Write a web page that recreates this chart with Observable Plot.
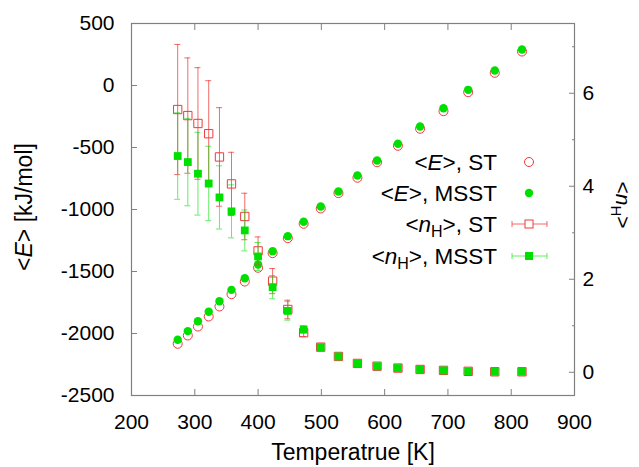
<!DOCTYPE html>
<html><head><meta charset="utf-8">
<script src="https://cdn.jsdelivr.net/npm/d3@7"></script>
<script src="https://cdn.jsdelivr.net/npm/@observablehq/plot@0.6"></script>
<style>
body{margin:0;background:#fff;}
#chart{width:639px;height:467px;}
</style></head><body><div id="chart"></div>
<script>
// ---- data ----
const temperature = [273, 289, 305, 322, 339, 358, 379, 400, 423, 447, 472, 499, 527, 557, 588, 621, 656, 693, 732, 774, 817];
const energyST   = [-2083, -2016, -1944, -1863, -1782, -1683, -1581, -1470, -1352, -1231, -1115, -992, -868, -744, -619, -486, -349, -207, -54, 102, 274];
const energyMSST = [-2051, -1981, -1901, -1825, -1740, -1648, -1554, -1444, -1336, -1215, -1099, -976, -855, -726, -605, -470, -331, -183, -35, 121, 290];
const nHST       = [5.65, 5.52, 5.35, 5.13, 4.63, 4.05, 3.35, 2.61, 1.96, 1.35, 0.85, 0.54, 0.34, 0.19, 0.13, 0.09, 0.06, 0.04, 0.02, 0.01, 0.01];
const nHSTerr    = [1.40, 1.24, 1.20, 1.14, 1.06, 0.68, 0.50, 0.30, 0.27, 0.20, 0.08, 0.04, 0.03, 0.02, 0.01, 0.01, 0.01, 0.01, 0.00, 0.00, 0.00];
const nHMSST     = [4.65, 4.52, 4.27, 4.06, 3.76, 3.46, 3.05, 2.49, 1.83, 1.32, 0.92, 0.54, 0.34, 0.19, 0.13, 0.09, 0.06, 0.04, 0.02, 0.01, 0.01];
const nHMSSTerr  = [0.93, 0.94, 0.89, 0.80, 0.68, 0.57, 0.44, 0.30, 0.25, 0.20, 0.08, 0.04, 0.03, 0.02, 0.01, 0.01, 0.01, 0.01, 0.00, 0.00, 0.00];

const xTicks = [200, 300, 400, 500, 600, 700, 800, 900];
const yTicks = [-2500, -2000, -1500, -1000, -500, 0, 500];
const y2Major = [0, 2, 4, 6];
const y2Minor = [1, 3, 5, 7];

// right axis (<n_H>, -0.5..7.5) mapped onto the left axis range (-2500..500)
const toY2 = n => -2500 + (n + 0.5) * 375;
const fromY2 = y => (y + 2500) / 375 - 0.5;

const data = temperature.map((T, i) => ({
  T,
  eST: energyST[i],
  eMSST: energyMSST[i],
  nST: toY2(nHST[i]), nSTlo: toY2(nHST[i] - nHSTerr[i]), nSThi: toY2(nHST[i] + nHSTerr[i]),
  nMS: toY2(nHMSST[i]), nMSlo: toY2(nHMSST[i] - nHMSSTerr[i]), nMShi: toY2(nHMSST[i] + nHMSSTerr[i])
}));

const FONT = "'Liberation Sans', Arial, Helvetica, sans-serif";
const red = "#ee3a3a", green = "#00e000", gray = "#808080";
const empty = () => "";
const plain = d => String(d);

const chart = Plot.plot({
  width: 639, height: 467,
  marginLeft: 131, marginRight: 65, marginTop: 23, marginBottom: 72,
  style: {fontFamily: FONT, background: "white", color: "black"},
  x: {domain: [200, 900], label: null},
  y: {domain: [-2500, 500], label: null},
  marks: [
    // inward ticks
    Plot.axisX({anchor: "bottom", ticks: xTicks, tickSize: -6, tickFormat: empty, stroke: gray, label: null}),
    Plot.axisX({anchor: "top", ticks: xTicks, tickSize: -6, tickFormat: empty, stroke: gray, label: null}),
    Plot.axisY({anchor: "left", ticks: yTicks, tickSize: -6, tickFormat: empty, stroke: gray, label: null}),
    Plot.axisY({anchor: "right", ticks: y2Major.map(toY2), tickSize: -6, tickFormat: empty, stroke: gray, label: null}),
    Plot.axisY({anchor: "right", ticks: y2Minor.map(toY2), tickSize: -3, tickFormat: empty, stroke: gray, label: null}),
    // tick labels
    Plot.axisX({anchor: "bottom", ticks: xTicks, tickSize: 0, tickPadding: 19, fontSize: 21, fill: "black", tickFormat: plain, label: null}),
    Plot.axisY({anchor: "left", ticks: yTicks, tickSize: 0, tickPadding: 17, fontSize: 21, fill: "black", tickFormat: plain, label: null}),
    Plot.axisY({anchor: "right", ticks: y2Major.map(toY2), tickSize: 0, tickPadding: 8, fontSize: 21, fill: "black",
      tickFormat: d => String(Math.round(fromY2(d))), label: null}),
    Plot.frame({stroke: gray, strokeWidth: 1.2}),
    // <E>
    Plot.dot(data, {x: "T", y: "eST", r: 4.5, stroke: red, strokeWidth: 1, fill: "none"}),
    Plot.dot(data, {x: "T", y: "eMSST", r: 4.2, fill: green, stroke: "none"}),
    // <n_H>, ST
    Plot.ruleX(data, {x: "T", y1: "nSTlo", y2: "nSThi", stroke: red, strokeWidth: 1, strokeOpacity: 0.75}),
    Plot.ruleY(data, {x1: "T", x2: "T", y: "nSTlo", insetLeft: -3, insetRight: -3, stroke: red, strokeOpacity: 0.75}),
    Plot.ruleY(data, {x1: "T", x2: "T", y: "nSThi", insetLeft: -3, insetRight: -3, stroke: red, strokeOpacity: 0.75}),
    Plot.dot(data, {x: "T", y: "nST", symbol: "square", r: 4.7, stroke: red, strokeWidth: 1, fill: "none"}),
    // <n_H>, MSST
    Plot.ruleX(data, {x: "T", y1: "nMSlo", y2: "nMShi", stroke: green, strokeWidth: 1, strokeOpacity: 0.6}),
    Plot.ruleY(data, {x1: "T", x2: "T", y: "nMSlo", insetLeft: -3, insetRight: -3, stroke: green, strokeOpacity: 0.6}),
    Plot.ruleY(data, {x1: "T", x2: "T", y: "nMShi", insetLeft: -3, insetRight: -3, stroke: green, strokeOpacity: 0.6}),
    Plot.dot(data, {x: "T", y: "nMS", symbol: "square", r: 4.4, fill: green, stroke: "none"})
  ]
});

document.getElementById("chart").appendChild(chart);

// ---- axis titles and legend (rich text: italics, subscripts) ----
const svg = d3.select(chart);
const g = svg.append("g").attr("font-family", FONT).attr("fill", "black");

// x title
g.append("text").attr("x", 353).attr("y", 460).attr("text-anchor", "middle").attr("font-size", 23)
  .text("Temperatrue [K]");

// left y title
const yl = g.append("text").attr("transform", "translate(32,207) rotate(-90)")
  .attr("text-anchor", "middle").attr("font-size", 23);
yl.append("tspan").text("<");
yl.append("tspan").attr("font-style", "italic").text("E");
yl.append("tspan").text("> [kJ/mol]");

// right y title
const yr = g.append("text").attr("transform", "translate(616,205) rotate(90)")
  .attr("text-anchor", "middle").attr("font-size", 21);
yr.append("tspan").text("<");
yr.append("tspan").attr("font-style", "italic").text("n");
yr.append("tspan").attr("dy", 5).attr("font-size", 15).text("H");
yr.append("tspan").attr("dy", -5).text(">");

// legend
const legendRows = [
  {y: 162, sym: "E", series: "ST"},
  {y: 193, sym: "E", series: "MSST"},
  {y: 224, sym: "n", series: "ST"},
  {y: 256, sym: "n", series: "MSST"}
];
legendRows.forEach((row, i) => {
  const t = g.append("text").attr("x", 497).attr("y", row.y + 7.5).attr("text-anchor", "end").attr("font-size", 22.5);
  t.append("tspan").text("<");
  t.append("tspan").attr("font-style", "italic").text(row.sym);
  if (row.sym === "n") {
    t.append("tspan").attr("dy", 5).attr("font-size", 16).text("H");
    t.append("tspan").attr("dy", -5).text(">, " + row.series);
  } else {
    t.append("tspan").text(">, " + row.series);
  }
  const col = row.series === "ST" ? red : green;
  const cx = 529;
  if (i === 0) {
    g.append("circle").attr("cx", cx).attr("cy", row.y).attr("r", 4.5).attr("fill", "none").attr("stroke", col);
  } else if (i === 1) {
    g.append("circle").attr("cx", cx).attr("cy", row.y).attr("r", 4.2).attr("fill", col);
  } else {
    const op = row.series === "ST" ? 0.75 : 0.6;
    g.append("line").attr("x1", 512).attr("x2", 547).attr("y1", row.y).attr("y2", row.y).attr("stroke", col).attr("stroke-opacity", op);
    g.append("line").attr("x1", 512).attr("x2", 512).attr("y1", row.y - 3).attr("y2", row.y + 3).attr("stroke", col).attr("stroke-opacity", op);
    g.append("line").attr("x1", 547).attr("x2", 547).attr("y1", row.y - 3).attr("y2", row.y + 3).attr("stroke", col).attr("stroke-opacity", op);
    if (row.series === "ST") {
      g.append("rect").attr("x", cx - 4).attr("y", row.y - 4).attr("width", 8).attr("height", 8).attr("fill", "white").attr("stroke", col);
    } else {
      g.append("rect").attr("x", cx - 4).attr("y", row.y - 4).attr("width", 8).attr("height", 8).attr("fill", col);
    }
  }
});
</script></body></html>
